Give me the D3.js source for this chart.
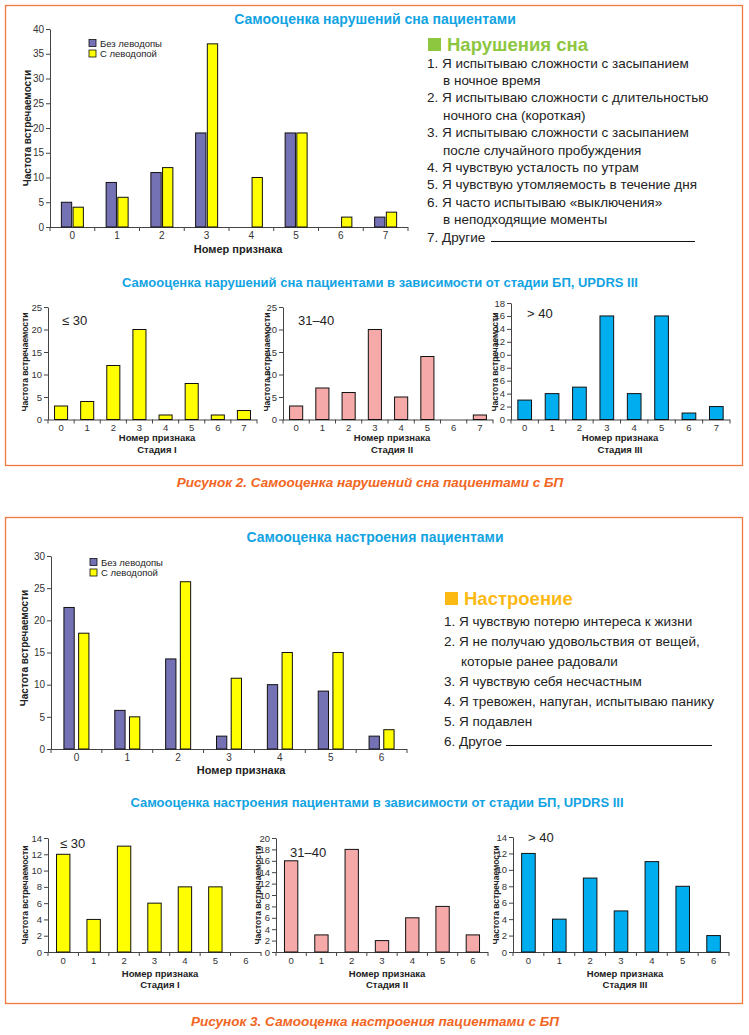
<!doctype html>
<html lang="ru">
<head>
<meta charset="utf-8">
<script src="https://cdn.jsdelivr.net/npm/d3@7/dist/d3.min.js"></script>
<style>
  body { margin: 0; background: #fff; }
  svg { display: block; font-family: "Liberation Sans", Arial, sans-serif; }
  .tick text { fill: #333; }
  .domain, .tick line { stroke: #444; }
</style>
</head>
<body>
<svg id="chart" width="749" height="1035"></svg>
<script>
// --- data: sleep (fig 2)
const sleepCats = [0, 1, 2, 3, 4, 5, 6, 7];
const sleepNoLevodopa = [5, 9, 11, 19, 0, 19, 0, 2];
const sleepWithLevodopa = [4, 6, 12, 37, 10, 19, 2, 3];
const sleepStage1 = [3, 4, 12, 20, 1, 8, 1, 2];
const sleepStage2 = [3, 7, 6, 20, 5, 14, 0, 1];
const sleepStage3 = [3, 4, 5, 16, 4, 16, 1, 2];
const sleepItems = [
  ["1. Я испытываю сложности с засыпанием", "в ночное время"],
  ["2. Я испытываю сложности с длительностью", "ночного сна (короткая)"],
  ["3. Я испытываю сложности с засыпанием", "после случайного пробуждения"],
  ["4. Я чувствую усталость по утрам"],
  ["5. Я чувствую утомляемость в течение дня"],
  ["6. Я часто испытываю «выключения»", "в неподходящие моменты"],
  ["7. Другие"]
];

// --- data: mood (fig 3)
const moodCats = [0, 1, 2, 3, 4, 5, 6];
const moodNoLevodopa = [22, 6, 14, 2, 10, 9, 2];
const moodWithLevodopa = [18, 5, 26, 11, 15, 15, 3];
const moodStage1 = [12, 4, 13, 6, 8, 8, 0];
const moodStage2 = [16, 3, 18, 2, 6, 8, 3];
const moodStage3 = [12, 4, 9, 5, 11, 8, 2];
const moodItems = [
  ["1. Я чувствую потерю интереса к жизни"],
  ["2. Я не получаю удовольствия от вещей,", "которые ранее радовали"],
  ["3. Я чувствую себя несчастным"],
  ["4. Я тревожен, напуган, испытываю панику"],
  ["5. Я подавлен"],
  ["6. Другое"]
];

const seriesNames = ["Без леводопы", "С леводопой"];

const PURPLE = "#7471b4", YELLOW = "#ffff00", PINK = "#f6a9a9", BLUE = "#00aeef";
const TITLE_BLUE = "#12a3e3", ORANGE = "#f26522";

const svg = d3.select("#chart");

// frames + captions
svg.append("rect").attr("x", 5.5).attr("y", 5.5).attr("width", 737).attr("height", 460)
  .attr("fill", "none").attr("stroke", "#f37a3e").attr("stroke-width", 1.3);
svg.append("rect").attr("x", 5.5).attr("y", 517.5).attr("width", 737).attr("height", 486)
  .attr("fill", "none").attr("stroke", "#f37a3e").attr("stroke-width", 1.3);

let centerText = (txt, x, y, size, color, bold = true, italic = false) => {
  return svg.append("text").attr("x", x).attr("y", y)
    .attr("text-anchor", "middle")
    .attr("font-size", size + "px")
    .attr("font-weight", bold ? "bold" : "normal")
    .attr("font-style", italic ? "italic" : "normal")
    .attr("fill", color).text(txt);
};

centerText("Самооценка нарушений сна пациентами", 375, 24, 14, TITLE_BLUE);
centerText("Самооценка нарушений сна пациентами в зависимости от стадии БП, UPDRS III", 380, 287, 13, TITLE_BLUE);
centerText("Рисунок 2. Самооценка нарушений сна пациентами с БП", 370, 487, 13.5, ORANGE, true, true);

centerText("Самооценка настроения пациентами", 375, 542, 14, TITLE_BLUE);
centerText("Самооценка настроения пациентами в зависимости от стадии БП, UPDRS III", 377, 807, 13, TITLE_BLUE);
centerText("Рисунок 3. Самооценка настроения пациентами с БП", 375, 1026, 13.5, ORANGE, true, true);

// generic axes for one chart
let drawAxes = (g, x, y, yTicks, opt) => {
  let [x0, x1] = x.range();
  // y axis
  g.append("g")
    .attr("transform", `translate(${x0},0)`)
    .call(d3.axisLeft(y).tickValues(yTicks).tickSize(4).tickSizeOuter(0).tickPadding(2))
    .call(a => a.selectAll("text").attr("font-size", opt.tickFont + "px"));
  // x axis labels
  g.append("g")
    .attr("transform", `translate(0,${y.range()[0]})`)
    .call(d3.axisBottom(x).tickSize(0).tickPadding(opt.xPad))
    .call(a => a.select(".domain").remove())
    .call(a => a.selectAll("text").attr("font-size", opt.tickFont + "px"));
  // x axis line with boundary ticks
  let y0 = y.range()[0];
  g.append("line").attr("x1", x0).attr("x2", x1).attr("y1", y0 + 0.5).attr("y2", y0 + 0.5)
    .attr("stroke", "#444");
  let bounds = d3.range(x.domain().length + 1).map(i => x0 + i * x.step());
  g.selectAll(".bnd").data(bounds).join("line")
    .attr("x1", d => d).attr("x2", d => d)
    .attr("y1", y0).attr("y2", y0 + 4).attr("stroke", "#444");

  g.append("text")
    .attr("x", opt.xLabelX).attr("y", opt.xLabelY)
    .attr("text-anchor", "middle").attr("font-weight", "bold")
    .attr("font-size", opt.labelFont + "px").attr("fill", "#222")
    .text("Номер признака");
  if (opt.stage) {
    g.append("text")
      .attr("x", opt.xLabelX).attr("y", opt.xLabelY + 11.5)
      .attr("text-anchor", "middle").attr("font-weight", "bold")
      .attr("font-size", opt.labelFont + "px").attr("fill", "#222")
      .text(opt.stage);
  }
  g.append("text")
    .attr("transform", `translate(${opt.yLabelX},${opt.yLabelY}) rotate(-90)`)
    .attr("text-anchor", "middle").attr("font-weight", "bold")
    .attr("font-size", opt.yLabelFont + "px").attr("fill", "#222")
    .text("Частота встречаемости");
};

// grouped bars (main charts)
let drawGrouped = (opt) => {
  let g = svg.append("g");
  let x = d3.scaleBand().domain(opt.cats).range(opt.xr);
  let y = d3.scaleLinear().domain([0, opt.yMax]).range(opt.yr);
  let sub = d3.scaleBand().domain([0, 1]).range([-opt.pairW / 2, opt.pairW / 2]).paddingInner(opt.gap);

  drawAxes(g, x, y, d3.range(0, opt.yMax + 1, opt.yStep), opt);

  [opt.a, opt.b].forEach((vals, si) => {
    g.selectAll(".s" + si).data(vals.map((v, i) => ({ c: opt.cats[i], v })).filter(d => d.v > 0))
      .join("rect")
      .attr("x", d => x(d.c) + x.bandwidth() / 2 + sub(si))
      .attr("y", d => y(d.v))
      .attr("width", sub.bandwidth())
      .attr("height", d => y(0) - y(d.v))
      .attr("fill", si == 0 ? PURPLE : YELLOW)
      .attr("stroke", "#111").attr("stroke-width", 1);
  });

  // legend
  seriesNames.forEach((name, i) => {
    let ly = opt.legendY + i * 10.5;
    g.append("rect").attr("x", opt.legendX).attr("y", ly).attr("width", 7).attr("height", 7)
      .attr("fill", i == 0 ? PURPLE : YELLOW).attr("stroke", "#111").attr("stroke-width", 0.8);
    g.append("text").attr("x", opt.legendX + 11).attr("y", ly + 7)
      .attr("font-size", "9.5px").attr("fill", "#222").text(name);
  });
};

// single-series bars (small charts)
let drawSingle = (opt) => {
  let g = svg.append("g");
  let x = d3.scaleBand().domain(opt.cats).range(opt.xr)
    .paddingInner(opt.pad).paddingOuter(opt.pad / 2);
  let y = d3.scaleLinear().domain([0, opt.yMax]).range(opt.yr);

  drawAxes(g, x, y, d3.range(0, opt.yMax + 1, opt.yStep), opt);

  g.selectAll(".bar").data(opt.vals.map((v, i) => ({ c: opt.cats[i], v })).filter(d => d.v > 0))
    .join("rect")
    .attr("x", d => x(d.c))
    .attr("y", d => y(d.v))
    .attr("width", x.bandwidth())
    .attr("height", d => y(0) - y(d.v))
    .attr("fill", opt.color)
    .attr("stroke", "#111").attr("stroke-width", 1);

  g.append("text").attr("x", opt.tagX).attr("y", opt.tagY)
    .attr("font-size", "13px").attr("fill", "#222").text(opt.tag);
};

// --- figure 2
drawGrouped({
  cats: sleepCats, a: sleepNoLevodopa, b: sleepWithLevodopa,
  xr: [50, 408], yr: [227, 29], yMax: 40, yStep: 5,
  pairW: 22, gap: 0.12, tickFont: 10, labelFont: 11, yLabelFont: 10, xPad: 5,
  xLabelX: 238, xLabelY: 253, yLabelX: 31, yLabelY: 128,
  legendX: 89, legendY: 39.5
});

let smallSleep = { cats: sleepCats, pad: 0.5, tickFont: 9.5, labelFont: 9.5, yLabelFont: 8.5, xPad: 5 };
drawSingle(Object.assign({}, smallSleep, {
  vals: sleepStage1, color: YELLOW, xr: [48, 257], yr: [419.5, 307], yMax: 25, yStep: 5,
  xLabelX: 157, xLabelY: 441, stage: "Стадия I", yLabelX: 28, yLabelY: 362,
  tag: "≤ 30", tagX: 62, tagY: 325
}));
drawSingle(Object.assign({}, smallSleep, {
  vals: sleepStage2, color: PINK, xr: [283, 493], yr: [419.5, 307], yMax: 25, yStep: 5,
  xLabelX: 392, xLabelY: 441, stage: "Стадия II", yLabelX: 270, yLabelY: 362,
  tag: "31–40", tagX: 298, tagY: 325
}));
drawSingle(Object.assign({}, smallSleep, {
  vals: sleepStage3, color: BLUE, xr: [511, 730], yr: [419.5, 303], yMax: 18, yStep: 2,
  xLabelX: 620, xLabelY: 441, stage: "Стадия III", yLabelX: 498, yLabelY: 362,
  tag: "> 40", tagX: 527, tagY: 318
}));

// --- figure 3
drawGrouped({
  cats: moodCats, a: moodNoLevodopa, b: moodWithLevodopa,
  xr: [51, 407], yr: [749, 556], yMax: 30, yStep: 5,
  pairW: 25, gap: 0.3, tickFont: 10, labelFont: 11, yLabelFont: 10, xPad: 5,
  xLabelX: 241, xLabelY: 774, yLabelX: 28, yLabelY: 648,
  legendX: 90, legendY: 558.5
});

let smallMood = { cats: moodCats, pad: 0.56, tickFont: 9.5, labelFont: 9.5, yLabelFont: 8.5, xPad: 5 };
drawSingle(Object.assign({}, smallMood, {
  vals: moodStage1, color: YELLOW, xr: [48, 261], yr: [952, 838], yMax: 14, yStep: 2,
  xLabelX: 160, xLabelY: 976.5, stage: "Стадия I", yLabelX: 28, yLabelY: 895,
  tag: "≤ 30", tagX: 60, tagY: 848
}));
drawSingle(Object.assign({}, smallMood, {
  vals: moodStage2, color: PINK, xr: [276, 488], yr: [952, 838], yMax: 20, yStep: 2,
  xLabelX: 387, xLabelY: 976.5, stage: "Стадия II", yLabelX: 261, yLabelY: 895,
  tag: "31–40", tagX: 290, tagY: 857
}));
drawSingle(Object.assign({}, smallMood, {
  vals: moodStage3, color: BLUE, xr: [513, 729], yr: [952, 837], yMax: 14, yStep: 2,
  xLabelX: 625, xLabelY: 976.5, stage: "Стадия III", yLabelX: 499, yLabelY: 895,
  tag: "> 40", tagX: 528, tagY: 842
}));

// --- text panels
let drawPanel = (opt) => {
  let g = svg.append("g");
  g.append("rect").attr("x", opt.x).attr("y", opt.titleY - 13).attr("width", 13).attr("height", 13)
    .attr("fill", opt.color);
  g.append("text").attr("x", opt.x + 19).attr("y", opt.titleY)
    .attr("font-size", "18.5px").attr("font-weight", "bold").attr("fill", opt.color)
    .text(opt.title);
  let line = 0;
  opt.items.forEach((item, k) => {
    item.forEach((t, j) => {
      let ty = opt.firstY + line * opt.step;
      g.append("text").attr("x", j == 0 ? opt.x - 1 : opt.x + opt.indent).attr("y", ty)
        .attr("font-size", "13.5px").attr("fill", "#222").text(t);
      line++;
    });
  });
  let ly = opt.firstY + (line - 1) * opt.step;
  g.append("line").attr("x1", opt.ulX1).attr("x2", opt.ulX2).attr("y1", ly).attr("y2", ly)
    .attr("stroke", "#111").attr("stroke-width", 1);
};

drawPanel({
  x: 428, titleY: 51, title: "Нарушения сна", color: "#8dc63f",
  items: sleepItems, firstY: 67.5, step: 17.4, indent: 15, ulX1: 491, ulX2: 695
});
drawPanel({
  x: 445, titleY: 605, title: "Настроение", color: "#fdb913",
  items: moodItems, firstY: 625.5, step: 20, indent: 16, ulX1: 506, ulX2: 712
});
</script>
</body>
</html>
